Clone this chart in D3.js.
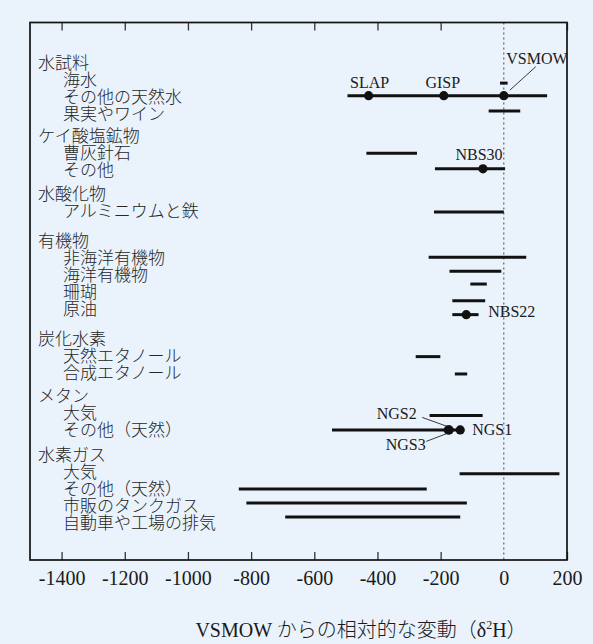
<!DOCTYPE html>
<html>
<head>
<meta charset="utf-8">
<script src="https://cdn.jsdelivr.net/npm/d3@7"></script>
<style>
  html, body { margin: 0; padding: 0; background: #eaf3fc; }
  svg { display: block; }
</style>
</head>
<body>
<svg id="chart" width="593" height="644"></svg>
<script>
// Sample groups and their members (one text row each)
const groupNames = ["水試料", "ケイ酸塩鉱物", "水酸化物", "有機物", "炭化水素", "メタン", "水素ガス"];
const groupItems = [
  ["海水", "その他の天然水", "果実やワイン"],
  ["曹灰針石", "その他"],
  ["アルミニウムと鉄"],
  ["非海洋有機物", "海洋有機物", "珊瑚", "原油"],
  ["天然エタノール", "合成エタノール"],
  ["大気", "その他（天然）"],
  ["大気", "その他（天然）", "市販のタンクガス", "自動車や工場の排気"]
];

// δ2H ranges (‰ vs VSMOW); barLine is the vertical position in row units
const barMin  = [ -12, -495,  -48, -435, -218, -221, -238, -172, -106, -163, -163, -279, -155, -235, -544, -140, -839, -815, -692];
const barMax  = [  12,  137,   52, -275,    4,    0,   71,   -8,  -54,  -59,  -80, -201, -116,  -67, -138,  176, -244, -117, -138];
const barLine = [1.30, 2.04, 2.94, 5.43, 6.34, 8.88, 11.55, 12.37, 13.12, 14.10, 14.92, 17.39, 18.41, 20.86, 21.70, 24.28, 25.18, 26.00, 26.82];

// Reference materials
const refNames  = ["SLAP", "GISP", "VSMOW", "NBS30", "NBS22", "NGS2", "NGS3", "NGS1"];
const refValues = [-428, -190, 0, -66, -119, -173, -176, -138];
const refLine   = [2.04, 2.04, 2.04, 6.34, 14.92, 21.70, 21.70, 21.70];

const xTicks = [-1400, -1200, -1000, -800, -600, -400, -200, 0, 200];

const W = 593, H = 644;
const frame = { left: 30, right: 567, top: 22.5, bottom: 560 };
const serif = "'Liberation Serif', 'Times New Roman', serif";
const jp = "'Noto Sans CJK JP', 'Noto Sans', sans-serif";
const ink = "#1a1a1a";

const svg = d3.select("#chart");

svg.append("rect").attr("width", W).attr("height", H).attr("fill", "#eaf3fc");

const x = d3.scaleLinear().domain([-1500, 200]).range([frame.left, frame.right]);
const lineStep = 17;
const y = d3.scaleLinear().domain([0, 1]).range([61, 61 + lineStep]);

// Row layout: extra spacing (in rows) before each group
const groupGap = [0, 0.35, 0.41, 0.76, 0.76, 0.35, 0.47];
const rows = [];
let line = 0;
groupNames.forEach((g, gi) => {
  if (gi > 0) line += 1 + groupGap[gi];
  rows.push({ text: g, level: 0, line });
  groupItems[gi].forEach(t => { line += 1; rows.push({ text: t, level: 1, line }); });
});

// Zero reference line (VSMOW)
svg.append("line")
  .attr("x1", x(0)).attr("x2", x(0))
  .attr("y1", frame.top).attr("y2", frame.bottom)
  .attr("stroke", "#444").attr("stroke-width", 1)
  .attr("stroke-dasharray", "2,3");

// Axes: inward ticks on top and bottom
const bottomAxis = d3.axisBottom(x).tickValues(xTicks)
  .tickFormat(d => String(d))
  .tickSizeInner(-8).tickSizeOuter(0).tickPadding(11);
const gB = svg.append("g").attr("transform", `translate(0,${frame.bottom})`).call(bottomAxis);
const gT = svg.append("g").attr("transform", `translate(0,${frame.top})`)
  .call(d3.axisTop(x).tickValues(xTicks).tickSizeInner(-8).tickSizeOuter(0).tickFormat(""));
[gB, gT].forEach(g => {
  g.select(".domain").remove();
  g.selectAll(".tick line").attr("stroke", "#333").attr("stroke-width", 1.3)
    .filter(d => d === 0).remove();
});
gB.selectAll(".tick text")
  .attr("font-family", serif).attr("font-size", 20).attr("fill", ink);

// Frame
svg.append("rect")
  .attr("x", frame.left).attr("y", frame.top)
  .attr("width", frame.right - frame.left).attr("height", frame.bottom - frame.top)
  .attr("fill", "none").attr("stroke", "#111").attr("stroke-width", 1.7);

// Row labels
svg.append("g").selectAll("text").data(rows).join("text")
  .attr("x", d => d.level === 0 ? 38 : 63)
  .attr("y", d => y(d.line))
  .attr("dominant-baseline", "central")
  .attr("font-family", jp).attr("font-size", 17).attr("font-weight", 300)
  .attr("fill", "#262626")
  .text(d => d.text);

// Range bars
svg.append("g").selectAll("line").data(barMin.map((m, i) => i)).join("line")
  .attr("x1", i => x(barMin[i])).attr("x2", i => x(barMax[i]))
  .attr("y1", i => y(barLine[i])).attr("y2", i => y(barLine[i]))
  .attr("stroke", "#111").attr("stroke-width", 3);

// Reference points
svg.append("g").selectAll("circle").data(refNames.map((n, i) => i)).join("circle")
  .attr("cx", i => x(refValues[i])).attr("cy", i => y(refLine[i]))
  .attr("r", 4.6).attr("fill", "#111");

// Reference labels
const lab = svg.append("g").attr("font-family", serif).attr("font-size", 16).attr("fill", ink);
const px = name => x(refValues[refNames.indexOf(name)]);
const py = name => y(refLine[refNames.indexOf(name)]);
function label(name, dx, dy, anchor) {
  lab.append("text").attr("x", px(name) + dx).attr("y", py(name) + dy)
    .attr("text-anchor", anchor).attr("dominant-baseline", "central").text(name);
}
label("SLAP", 1, -13, "middle");
label("GISP", -1, -13, "middle");
label("VSMOW", 2.5, -37.5, "start");
label("NBS30", -4, -14.5, "middle");
label("NBS22", 22, -3, "start");
label("NGS1", 12, 0, "start");
label("NGS2", -32.5, -16, "end");
label("NGS3", -22.5, 15, "end");

// Leader lines
const leader = (x1, y1, x2, y2) => svg.append("line")
  .attr("x1", x1).attr("y1", y1).attr("x2", x2).attr("y2", y2)
  .attr("stroke", "#222").attr("stroke-width", 0.9);
leader(px("VSMOW") + 32, py("VSMOW") - 29, px("VSMOW") + 6, py("VSMOW") - 5.5);
leader(px("NGS2") - 27, py("NGS2") - 12.5, px("NGS2") - 2, py("NGS2") - 3.5);
leader(px("NGS3") - 22, py("NGS3") + 11.5, px("NGS3") - 1, py("NGS3") + 3.5);

// Axis title
const title = svg.append("text")
  .attr("x", 361).attr("y", 637).attr("text-anchor", "middle")
  .attr("font-family", serif).attr("font-size", 20).attr("fill", ink);
title.append("tspan").text("VSMOW ");
title.append("tspan").attr("font-family", jp).attr("font-weight", 300).text("からの相対的な変動（");
title.append("tspan").text("δ");
title.append("tspan").attr("font-size", 12).attr("dy", -8).text("2");
title.append("tspan").attr("dy", 8).text("H");
title.append("tspan").attr("font-family", jp).attr("font-weight", 300).text("）");
</script>
</body>
</html>
